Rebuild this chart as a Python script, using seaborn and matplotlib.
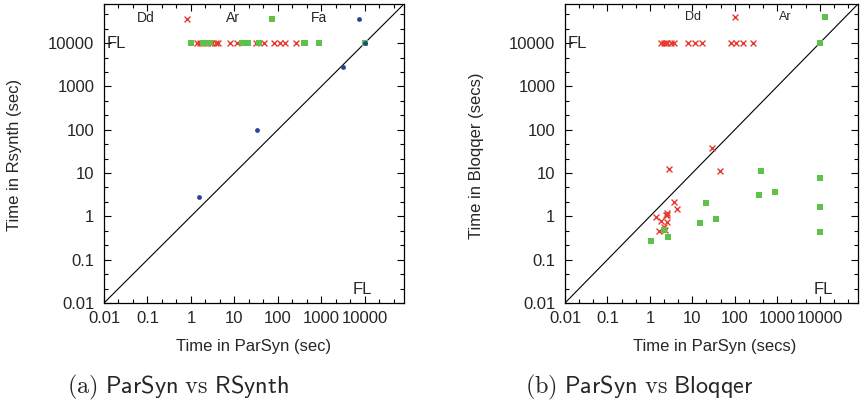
import numpy as np
import seaborn as sns
import matplotlib.pyplot as plt
import matplotlib.transforms as mtransforms
from matplotlib.ticker import FixedLocator, NullFormatter

# fail / timeout value used for the "FL" row
FL = 10000

# (a) ParSyn vs RSynth
dd_a_x = [1.4, 1.65, 1.9, 2.3, 2.7, 3.1, 3.7, 4.3, 8.1, 11.7, 31, 47, 80, 110, 150, 257]
dd_a_y = [FL] * len(dd_a_x)
ar_a_x = [1.0, 1.9, 2.15, 2.45, 2.8, 15, 21, 36, 395, 420, 870, 10000]
ar_a_y = [FL] * len(ar_a_x)
fa_a_x = [1.5, 34, 3200, 10000]
fa_a_y = [2.8, 100, 2800, 10000]

# (b) ParSyn vs Bloqqer
dd_b_x = [1.8, 2.1, 2.36, 2.5, 3.1, 3.8, 8.1, 11.7, 17, 81, 105, 153, 262,
          2.75, 29, 45, 3.6, 4.25, 1.38, 1.8, 2.5, 2.5, 2.4, 2.5, 2.2, 1.6, 2.3]
dd_b_y = [FL] * 13 + [12.4, 38, 11.2, 2.15, 1.48, 0.98, 0.78, 1.2, 1.05, 1.1, 0.75, 0.57, 0.46, 0.48]
ar_b_x = [1.05, 2.1, 2.6, 15.4, 21, 36, 380, 410, 900, 10000, 10000, 10000, 10000]
ar_b_y = [0.27, 0.48, 0.33, 0.7, 2.0, 0.87, 3.1, 11.2, 3.6, 7.7, 1.65, 0.44, 10000]

tick_vals = [0.01, 0.1, 1, 10, 100, 1000, 10000]
tick_labels = ['0.01', '0.1', '1', '10', '100', '1000', '10000']

RED, GREEN, BLUE = '#e8392f', '#5ec24a', '#2b3f9c'

sns.set_style('ticks')
plt.rcParams['font.family'] = ['Liberation Sans', 'DejaVu Sans']
plt.rcParams['mathtext.fontset'] = 'cm'

W, H = 867, 405
fig = plt.figure(figsize=(W / 100, H / 100), dpi=100)


def px_axes(l, t, w, h):
    return fig.add_axes([l / W, 1 - (t + h) / H, w / W, h / H])


def setup(ax):
    ax.set_xscale('log')
    ax.set_yscale('log')
    ax.set_xlim(0.01, 8e4)
    ax.set_ylim(0.01, 8e4)
    minor = (10.0 ** (np.log10(tick_vals)[:, None] + np.array([1 / 3, 2 / 3]))).ravel()
    for axis in (ax.xaxis, ax.yaxis):
        axis.set_major_locator(FixedLocator(tick_vals))
        axis.set_minor_locator(FixedLocator(minor))
        axis.set_minor_formatter(NullFormatter())
    ax.set_xticklabels(tick_labels)
    ax.set_yticklabels(tick_labels)
    ax.tick_params(which='both', direction='in', top=True, right=True,
                   labelsize=12, width=0.8, color='black')
    ax.tick_params(which='major', length=5)
    ax.tick_params(which='minor', length=3)
    ax.tick_params(axis='x', pad=6)
    ax.tick_params(axis='y', pad=7)
    for sp in ax.spines.values():
        sp.set_color('black')
        sp.set_linewidth(0.9)
    ax.axline((0.01, 0.01), (1e4, 1e4), color='black', lw=0.8, zorder=1)
    ax.set_xlabel('')
    ax.set_ylabel('')


def fl_labels(ax, bx):
    tr = mtransforms.blended_transform_factory(ax.transAxes, ax.transData)
    ax.text(0.008, FL, 'FL', transform=tr, ha='left', va='center', fontsize=12)
    ax.text(bx, 0.045, 'FL', transform=ax.transAxes, ha='left', va='center', fontsize=12)


ax_a = px_axes(104, 4, 300, 299)
sns.scatterplot(x=dd_a_x, y=dd_a_y, ax=ax_a, marker='x', color=RED, s=18, linewidth=1, label='Dd', zorder=3)
sns.scatterplot(x=ar_a_x, y=ar_a_y, ax=ax_a, marker='s', color=GREEN, s=18, linewidth=0, label='Ar', zorder=3)
sns.scatterplot(x=fa_a_x, y=fa_a_y, ax=ax_a, marker='o', color=BLUE, s=12, linewidth=0, label='Fa', zorder=4)
setup(ax_a)
fl_labels(ax_a, 0.83)
ax_a.legend(loc='upper left', bbox_to_anchor=(0.11, 0.975), ncol=3, frameon=False,
            markerfirst=False, handlelength=3, handletextpad=0.8, columnspacing=1.3,
            borderpad=0, borderaxespad=0, fontsize=10, scatterpoints=1)

ax_b = px_axes(565, 4, 293, 299)
sns.scatterplot(x=dd_b_x, y=dd_b_y, ax=ax_b, marker='x', color=RED, s=18, linewidth=1, label='Dd', zorder=3)
sns.scatterplot(x=ar_b_x, y=ar_b_y, ax=ax_b, marker='s', color=GREEN, s=18, linewidth=0, label='Ar', zorder=3)
setup(ax_b)
fl_labels(ax_b, 0.85)
ax_b.legend(loc='upper left', bbox_to_anchor=(0.41, 0.975), ncol=2, frameon=False,
            markerfirst=False, handlelength=3.8, handletextpad=0.8, columnspacing=1.6,
            borderpad=0, borderaxespad=0, fontsize=9, scatterpoints=1)

# axis labels
fig.text(254 / W, 1 - 347 / H, 'Time in ParSyn (sec)', ha='center', va='center', fontsize=12)
fig.text(15 / W, 1 - 155 / H, 'Time in Rsynth (sec)', ha='center', va='center', rotation=90, fontsize=12)
fig.text(715 / W, 1 - 347 / H, 'Time in ParSyn (secs)', ha='center', va='center', fontsize=12)
fig.text(477 / W, 1 - 156 / H, 'Time in Bloqqer (secs)', ha='center', va='center', rotation=90, fontsize=12)

# captions
fig.text(178 / W, 1 - 387 / H, r'$\mathrm{(a)}\ \mathsf{ParSyn}\ \mathrm{vs}\ \mathsf{RSynth}$',
         ha='center', va='center', fontsize=17.5)
fig.text(639 / W, 1 - 387 / H, r'$\mathrm{(b)}\ \mathsf{ParSyn}\ \mathrm{vs}\ \mathsf{Bloqqer}$',
         ha='center', va='center', fontsize=17.5)

fig.savefig('out.png', dpi=100)
